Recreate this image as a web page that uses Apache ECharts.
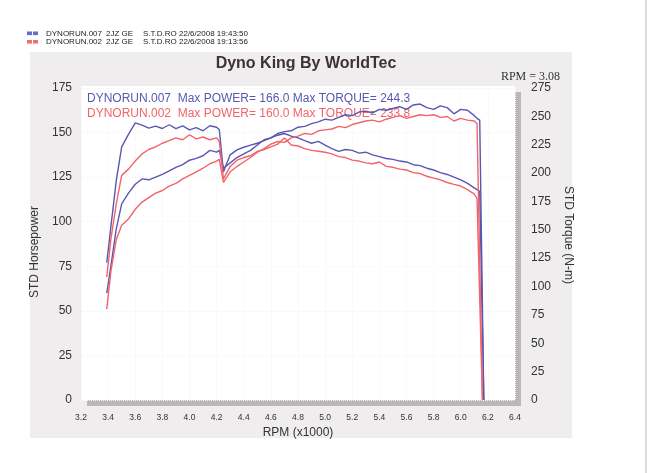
<!DOCTYPE html>
<html lang="en">

<head>
  <meta charset="UTF-8">
  <title>Dyno King By WorldTec</title>
  <script src="https://cdn.jsdelivr.net/npm/echarts@6.0.0/dist/echarts.min.js"></script>
  <style>
    body { margin: 0; background: #fff; }
  </style>
</head>

<body>
  <div id="main" style="width: 650px;height:473px;"></div>

  <script type="text/javascript">

    // engine speed, x1000 rpm (shared by all four curves)
    const rpm = [3.39, 3.42, 3.46,
      3.50, 3.55, 3.60, 3.65, 3.70, 3.75, 3.80, 3.85, 3.90, 3.95, 4.00, 4.05, 4.10, 4.15, 4.20,
      4.22,
      4.25, 4.30, 4.35, 4.40, 4.45, 4.50, 4.55, 4.60, 4.65, 4.70, 4.75, 4.80, 4.85, 4.90, 4.95,
      5.00, 5.05, 5.10, 5.15, 5.20, 5.25, 5.30, 5.35, 5.40, 5.45, 5.50, 5.55, 5.60, 5.65, 5.70, 5.75,
      5.80, 5.85, 5.90, 5.95, 6.00, 6.05, 6.10,
      6.12, 6.14, 6.16, 6.17];

    // DYNORUN.007 (blue) - horsepower and torque (N-m)
    const run007Power = [60, 75, 96,
      110, 116, 121, 124, 123.5, 125, 126.5, 128.5, 130.5, 132, 134.5, 135.5, 137, 140, 139,
      140,
      130, 133, 136, 138, 140, 143, 146, 147, 149.5, 150.5, 151, 153, 153.5, 155, 156,
      157.5, 157, 158.5, 160, 159.5, 161.5, 162, 161, 163, 162.5, 163.5, 164.5, 163, 165.5, 166, 164,
      163, 165, 164, 160.5, 163, 162.5, 159.5,
      158, 157, null, 0];
    const run007Torque = [121, 152.4, 193.3,
      223.1, 234.1, 244.3, 242.3, 239.6, 241.4, 239.3, 242.6, 239.2, 241.7, 238.1, 240.1, 237.3, 241.7, 240.4,
      238.1,
      201, 216.1, 220.5, 222.8, 224.7, 226.3, 228.6, 231, 233.4, 234.9, 232.6, 231, 228.6, 226.3, 227.9,
      224.7, 221.6, 219.2, 220.8, 220, 217.6, 218.4, 216.1, 214.5, 212.9, 212.1, 210.6, 209.8, 207.4, 206.6, 204.3,
      202.7, 200.4, 198.8, 196.4, 194.1, 190.9, 187,
      185.4, 183.9, null, 0];

    // DYNORUN.002 (red) - horsepower and torque (N-m)
    const run002Power = [51, 72, 90,
      98, 101.5, 107, 111, 113.5, 116, 117.5, 120, 121.5, 124, 126, 128, 130, 132.5, 134,
      135,
      122, 128, 131, 133.5, 136, 139, 141, 143.5, 145, 144.5, 147, 148, 149.5, 149, 151,
      151.5, 152, 153.5, 152.8, 154.5, 155.5, 156.5, 157, 156, 157.5, 158.5, 159.5, 158, 159, 160, 159.5,
      160, 158.5, 159, 156.5, 158, 157, 156.5,
      155, null, 0, null];
    const run002Torque = [108.4, 141.4, 172.9,
      198, 203.5, 210.6, 216.9, 220.8, 223.1, 226.3, 228.6, 231, 229.4, 233.8, 230.2, 231.8, 229.4, 231,
      227.9,
      194.9, 205.9, 211.4, 213.7, 215.3, 219.2, 220.8, 223.1, 225.5, 231, 224.7, 223.9, 221.6, 220, 219.2,
      218.4, 216.9, 214.5, 213.7, 211.4, 210.6, 209, 208.2, 209.8, 205.9, 205.1, 203.5, 202.7, 200.4, 199.6, 197.2,
      195.6, 194.1, 191.7, 190.1, 188.6, 185.4, 181.5,
      177.6, null, 0, null];

    const headerRows = [
      ['DYNORUN.007', '2JZ GE', 'S.T.D.RO', '22/6/2008 19:43:50'],
      ['DYNORUN.002', '2JZ GE', 'S.T.D.RO', '22/6/2008 19:13:56']
    ];
    const summaryLines = [
      'DYNORUN.007  Max POWER= 166.0 Max TORQUE= 244.3',
      'DYNORUN.002  Max POWER= 160.0 Max TORQUE= 233.8'
    ];

    const blue = '#5858b2';
    const red = '#f2636b';
    const font = 'Liberation Sans, Arial, sans-serif';

    function pairs(values) {
      return rpm.map((r, i) => [r, values[i]]);
    }

    function line(name, values, color, axis) {
      return {
        name: name,
        type: 'line',
        yAxisIndex: axis,
        data: pairs(values),
        showSymbol: false,
        connectNulls: true,
        lineStyle: { color: color, width: 1.4 },
        itemStyle: { color: color },
        z: 5
      };
    }

    // header rows: colour swatches + columns of text
    let header = [];
    headerRows.forEach((row, i) => {
      let c = i == 0 ? '#6b6bcc' : '#f07070';
      let y = 33.5 + i * 8.5;
      header.push({ type: 'rect', shape: { x: 27, y: y - 2, width: 5, height: 3.6 }, style: { fill: c }, z: 20 });
      header.push({ type: 'rect', shape: { x: 33, y: y - 2, width: 5, height: 3.6 }, style: { fill: c }, z: 20 });
      [46, 106, 143, 179].forEach((x, k) => {
        header.push({
          type: 'text', x: x, y: y,
          style: { text: row[k], font: '8px ' + font, fill: '#222', textVerticalAlign: 'middle' },
          z: 20
        });
      });
    });

    let options = {
      backgroundColor: '#fff',
      animation: false,
      title: {
        text: 'Dyno King By WorldTec',
        left: 301, top: 51, textAlign: 'center',
        textStyle: { fontFamily: font, fontSize: 16, fontWeight: 'bold', color: '#3b3334' }
      },
      grid: { left: 81, right: 135, top: 88, bottom: 73 },
      xAxis: {
        type: 'value', min: 3.2, max: 6.4, interval: 0.2,
        name: 'RPM (x1000)', nameLocation: 'middle', nameGap: 25,
        nameTextStyle: { fontFamily: font, fontSize: 12, color: '#333' },
        axisLine: { show: false }, axisTick: { show: false },
        axisLabel: { fontFamily: font, fontSize: 8.5, color: '#333', margin: 13, formatter: v => v.toFixed(1) },
        splitLine: { show: true, lineStyle: { color: '#f4f4f4', type: 'dotted' } }
      },
      yAxis: [{
        type: 'value', min: 0, max: 175, interval: 25,
        name: 'STD Horsepower', nameLocation: 'middle', nameRotate: 90, nameGap: 34,
        nameTextStyle: { fontFamily: font, fontSize: 12, color: '#333', padding: [0, 16, 0, 0] },
        axisLine: { show: false }, axisTick: { show: false },
        axisLabel: { fontFamily: font, fontSize: 12, color: '#333', margin: 9 },
        splitLine: { show: true, lineStyle: { color: '#f4f4f4', type: 'dotted' } }
      }, {
        type: 'value', min: 0, max: 275, interval: 25, position: 'right',
        name: 'STD Torque (N-m)', nameLocation: 'middle', nameRotate: -90, nameGap: 40,
        nameTextStyle: { fontFamily: font, fontSize: 12, color: '#333', padding: [0, 18, 0, 0] },
        axisLine: { show: false }, axisTick: { show: false },
        axisLabel: { fontFamily: font, fontSize: 12, color: '#333', margin: 16 },
        splitLine: { show: false }
      }],
      graphic: {
        elements: [
          // scanned page panel, plot shadow and white plot face
          { type: 'rect', shape: { x: 30, y: 52, width: 542, height: 386 }, style: { fill: '#efeded' }, z: -30 },
          { type: 'rect', shape: { x: 645, y: 0, width: 2, height: 473 }, style: { fill: '#dcdcdc' }, z: -30 },
          { type: 'rect', shape: { x: 87, y: 92, width: 434, height: 314 }, style: { fill: '#bcb6b8' }, z: -20 },
          { type: 'rect', shape: { x: 81, y: 86, width: 434, height: 314 }, style: { fill: '#fff' }, z: -10 },
          {
            type: 'text', x: 560, y: 77,
            style: { text: 'RPM = 3.08', font: '12px Liberation Serif, serif', fill: '#333', textAlign: 'right', textVerticalAlign: 'middle' },
            z: 20
          },
          {
            type: 'text', x: 87, y: 98.5,
            style: { text: summaryLines[0], font: '12px ' + font, fill: blue, textVerticalAlign: 'middle' },
            z: 1
          },
          {
            type: 'text', x: 87, y: 113.5,
            style: { text: summaryLines[1], font: '12px ' + font, fill: red, textVerticalAlign: 'middle' },
            z: 1
          }
        ].concat(header)
      },
      series: [
        line('DYNORUN.007 Torque', run007Torque, blue, 1),
        line('DYNORUN.007 Power', run007Power, blue, 0),
        line('DYNORUN.002 Torque', run002Torque, red, 1),
        line('DYNORUN.002 Power', run002Power, red, 0)
      ]
    };

    let myChart = echarts.init(document.getElementById('main'));
    myChart.setOption(options);
  </script>

</body>

</html>
